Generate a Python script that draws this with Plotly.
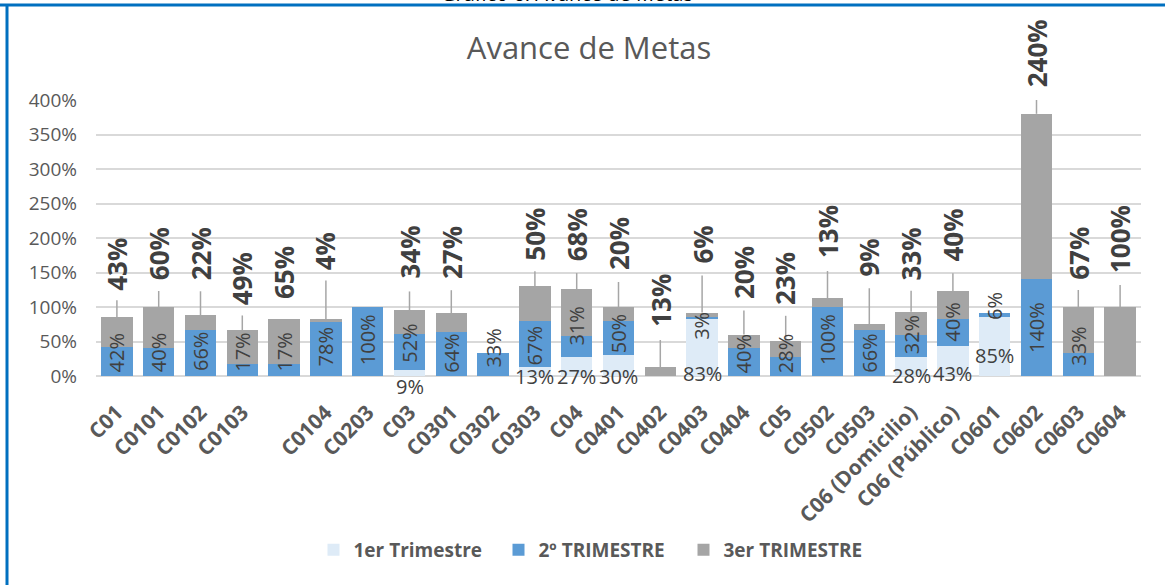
import plotly.graph_objects as go

# ---------------- data ----------------
categories = ["C01", "C0101", "C0102", "C0103", "", "C0104", "C0203", "C03", "C0301",
              "C0302", "C0303", "C04", "C0401", "C0402", "C0403", "C0404", "C05", "C0502",
              "C0503", "C06 (Domicilio)", "C06 (Público)", "C0601", "C0602", "C0603", "C0604"]

trim1 = [None, None, None, None, None, None, None, 0.09, None, None, 0.13, 0.27, 0.30,
         None, 0.83, None, None, None, None, 0.28, 0.43, 0.85, None, None, None]
trim2 = [0.42, 0.40, 0.66, 0.17, 0.17, 0.78, 1.00, 0.52, 0.64, 0.33, 0.67, 0.31, 0.50,
         None, 0.03, 0.40, 0.28, 1.00, 0.66, 0.32, 0.40, 0.06, 1.40, 0.33, None]
trim3 = [0.43, 0.60, 0.22, 0.49, 0.65, 0.04, None, 0.34, 0.27, None, 0.50, 0.68, 0.20,
         0.13, 0.06, 0.20, 0.23, 0.13, 0.09, 0.33, 0.40, None, 2.40, 0.67, 1.00]

series_names = ["1er Trimestre", "2º TRIMESTRE", "3er TRIMESTRE"]
tick_vals_y = [0, 0.5, 1.0, 1.5, 2.0, 2.5, 3.0, 3.5, 4.0]

# ---------------- label placement (pixel tweaks, style only) ----------------
t1_shift = [0, 0, 0, 0, 0, 0, 0, -10, 0, 0, 0, 0, 0, 0, 3, 0, 0, 0, 0, 1, 3, 21, 0, 0, 0]
t2_shift = [2, 2, 3, 2, 2, 8, 9, 5, 1, 6, 0, 10, 0, 0, -23, 1, 1, 9, 1, 0, 3, -5, 21, 8, 0]
t3_leader = [17, 16, 24, 15, 0, 39, 0, 19, 23, 0, 15, 16, 25, 27, 37, 24, 25, 27, 36, 21, 18, 0, 14, 17, 22]
t3_lift = [25, 25, 33, 23, 18, 47, 0, 30, 32, 0, 24, 26, 35, 38, 47, 34, 34, 38, 46, 29, 28, 0, 24, 25, 32]

colors = ["#DEEBF7", "#5B9BD5", "#A5A5A5"]
label_color = "#404040"
axis_text = "#595959"
FONT = "Open Sans"

x = list(range(len(categories)))

fig = go.Figure()
for name, vals, col in zip(series_names, [trim1, trim2, trim3], colors):
    fig.add_trace(go.Bar(
        x=x, y=[v if v is not None else 0 for v in vals], name=name,
        marker=dict(color=col, line=dict(width=0)),
        hoverinfo="skip",
    ))

def pct(v):
    return f"{round(v * 100)}%"

annotations = []
shapes = []
for i in x:
    v1, v2, v3 = trim1[i], trim2[i], trim3[i]
    base2 = v1 or 0
    total = (v1 or 0) + (v2 or 0) + (v3 or 0)
    if v1:
        annotations.append(dict(x=i, y=0, xref="x", yref="y", text=pct(v1), showarrow=False,
                                yanchor="middle", xanchor="center", yshift=t1_shift[i],
                                font=dict(family=FONT, size=20, color=label_color)))
    if v2:
        annotations.append(dict(x=i, y=base2, xref="x", yref="y", text=pct(v2), showarrow=False,
                                textangle=-90, yanchor="bottom", xanchor="center",
                                yshift=t2_shift[i],
                                font=dict(family=FONT, size=20, color=label_color)))
    if v3:
        annotations.append(dict(x=i, y=total, xref="x", yref="y", text=pct(v3), showarrow=False,
                                textangle=-90, yanchor="bottom", xanchor="center",
                                yshift=t3_lift[i],
                                font=dict(family=FONT, size=26, color=label_color, weight="bold")))
        if t3_leader[i] > 0:
            shapes.append(dict(type="line", xref="x", yref="y", ysizemode="pixel", yanchor=total,
                               x0=i, x1=i, y0=0, y1=t3_leader[i],
                               line=dict(color="#A6A6A6", width=1.5)))

# plot-area geometry in pixels (for frame decorations)
L, R, T, B = 96, 1141, 100, 376
def px_x(p):
    return (p - L) / (R - L)
def px_y(p):
    return (B - p) / (B - T)

# Blue frame (top and left edges)
shapes.append(dict(type="line", xref="paper", yref="paper",
                   x0=px_x(0), x1=px_x(1165), y0=px_y(5), y1=px_y(5),
                   line=dict(color="#0070C0", width=3)))
shapes.append(dict(type="line", xref="paper", yref="paper",
                   x0=px_x(7), x1=px_x(7), y0=px_y(5), y1=px_y(586),
                   line=dict(color="#0070C0", width=3)))

# Caption above the frame (only its lower part shows in the reference)
annotations.append(dict(x=px_x(567), y=px_y(9), xref="paper", yref="paper",
                        text="Gráfico 6: Avance de Metas", showarrow=False,
                        xanchor="center", yanchor="bottom",
                        font=dict(family=FONT, size=20, color="#000000")))

fig.update_layout(
    barmode="stack",
    bargap=0.25,
    width=1165, height=585, autosize=False,
    margin=dict(l=L, r=1165 - R, t=T, b=585 - B, pad=0),
    paper_bgcolor="white", plot_bgcolor="white",
    title=dict(text="Avance de Metas", x=589 / 1165, xref="container", xanchor="center",
               y=1 - 48 / 585, yref="container", yanchor="middle",
               font=dict(family=FONT, size=31, color=axis_text)),
    showlegend=True,
    legend=dict(orientation="h", x=px_x(591), xanchor="center", y=px_y(550), yanchor="middle",
                traceorder="normal", entrywidth=140, entrywidthmode="pixels",
                font=dict(family=FONT, size=19, color=axis_text, weight="bold"),
                bgcolor="rgba(0,0,0,0)"),
    annotations=annotations,
    shapes=shapes,
    font=dict(family=FONT, color=axis_text),
)

fig.update_xaxes(
    range=[-0.5, len(categories) - 0.5], automargin=False,
    tickmode="array", tickvals=x, ticktext=categories,
    tickangle=-45, showgrid=False, zeroline=False, showline=False, ticks="",
    ticklabelstandoff=19,
    tickfont=dict(family=FONT, size=21, color=axis_text, weight="bold"),
)
fig.update_yaxes(
    range=[0, 4], automargin=False, tickmode="array", tickvals=tick_vals_y, tickformat=".0%",
    showgrid=True, gridcolor="#D9D9D9", gridwidth=2,
    zeroline=True, zerolinecolor="#D9D9D9", zerolinewidth=2,
    showline=False, ticks="", ticklabelstandoff=18,
    tickfont=dict(family=FONT, size=19, color=axis_text),
)

fig.write_html("out.html", config={"displayModeBar": False},
               post_script="document.body.style.margin='0px';")
